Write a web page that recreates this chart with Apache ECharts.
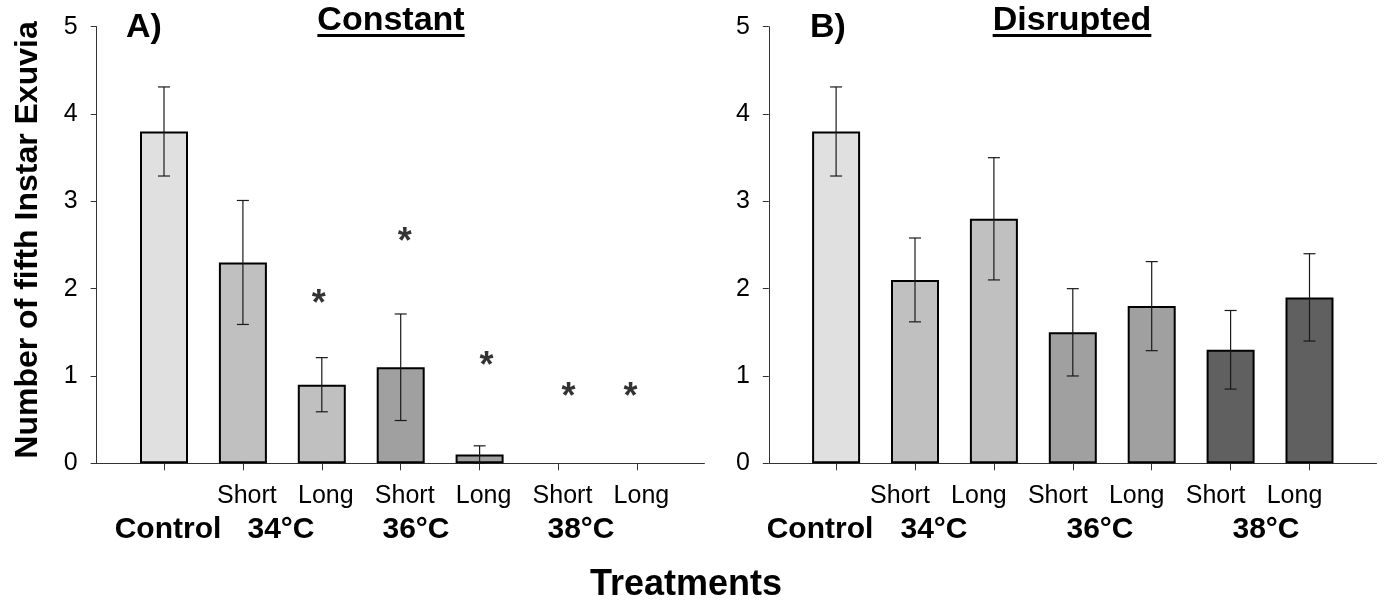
<!DOCTYPE html>
<html>
<head>
<meta charset="utf-8">
<script src="https://cdn.jsdelivr.net/npm/echarts@6/dist/echarts.min.js"></script>
<style>
  html, body { margin: 0; padding: 0; background: #fff; }
  #chart { width: 1384px; height: 605px; }
</style>
</head>
<body>
<div id="chart"></div>
<script>
// ---- data ----
const categories = ['', 'Short', 'Long', 'Short', 'Long', 'Short', 'Long'];
const treatmentGroups = ['Control', '34°C', '36°C', '38°C'];
const yTicks = [0, 1, 2, 3, 4, 5];

const constantMeans  = [3.8, 2.3, 0.9, 1.1, 0.1, 0, 0];
const constantErrors = [0.51, 0.71, 0.31, 0.61, 0.1, 0, 0];
// height of the significance asterisks above each treatment (null = none)
const constantStars  = [null, null, 1.88, 2.59, 1.175, 0.82, 0.82];

const disruptedMeans  = [3.8, 2.1, 2.8, 1.5, 1.8, 1.3, 1.9];
const disruptedErrors = [0.51, 0.48, 0.7, 0.5, 0.51, 0.45, 0.5];

// ---- styling / layout ----
const FONT = "'Liberation Sans', Arial, Helvetica, sans-serif";
const BAR_FILL = ['#e0e0e0', '#c0c0c0', '#c0c0c0', '#a0a0a0', '#a0a0a0', '#606060', '#606060'];
const AXIS_COLOR = '#333333';
const PLOT_TOP = 26.7;
const PLOT_H = 436.6;
const FRAME_W = 607.7;
const BAND_INSET = 27.85;
const BAND_W = 552.3;
const STAR_NUDGE = [0, 0, -3, 4, 7, 10, -7];

const panels = [
  { left: 96.7, title: 'Constant', titleX: 391, tag: 'A)', tagX: 144,
    means: constantMeans, errors: constantErrors, stars: constantStars,
    labelPad: [0, 0, 0, 8],
    groupX: [168, 281, 416, 581] },
  { left: 768.8, title: 'Disrupted', titleX: 1072, tag: 'B)', tagX: 828,
    means: disruptedMeans, errors: disruptedErrors, stars: null,
    labelPad: [0, 30, 0, 0],
    groupX: [820, 934, 1100, 1266] }
];

const chart = echarts.init(document.getElementById('chart'));

const grid = [], xAxis = [], yAxis = [], series = [], graphic = [];

const measure = (() => {
  const ctx = document.createElement('canvas').getContext('2d');
  return (text, font) => { ctx.font = font; return ctx.measureText(text).width; };
})();

const centered = (text, x, y, font, extra) => Object.assign({
  type: 'text', x, y,
  style: { text, font, fill: '#000',
           align: 'center', verticalAlign: 'middle',
           textAlign: 'center', textVerticalAlign: 'middle' }
}, extra || {});

panels.forEach((p, k) => {
  const frame = 2 * k, band = 2 * k + 1;

  // frame grid: draws the two axis lines and the y scale
  grid.push({ left: p.left, top: PLOT_TOP, width: FRAME_W, height: PLOT_H });
  xAxis.push({
    gridIndex: frame, type: 'value', min: 0, max: 1,
    axisLine: { show: true, lineStyle: { color: AXIS_COLOR, width: 1 } },
    axisTick: { show: false }, axisLabel: { show: false }, splitLine: { show: false }
  });
  yAxis.push({
    gridIndex: frame, type: 'value',
    min: yTicks[0], max: yTicks[yTicks.length - 1], interval: yTicks[1] - yTicks[0],
    axisLine: { show: true, lineStyle: { color: AXIS_COLOR, width: 1 } },
    axisTick: { show: true, length: 6, lineStyle: { color: AXIS_COLOR } },
    axisLabel: { color: '#000', fontSize: 25, fontFamily: FONT, margin: 19 },
    splitLine: { show: false }
  });

  // band grid: the treatment categories, bars and error bars
  grid.push({ left: p.left + BAND_INSET, top: PLOT_TOP, width: BAND_W, height: PLOT_H });
  xAxis.push({
    gridIndex: band, type: 'category', data: categories,
    axisLine: { show: false },
    axisTick: { show: true, alignWithLabel: true, interval: 0, length: 7,
                lineStyle: { color: AXIS_COLOR } },
    axisLabel: { interval: 0, color: '#000', fontSize: 25, fontFamily: FONT,
                 margin: 20, padding: p.labelPad },
    splitLine: { show: false }
  });
  yAxis.push({
    gridIndex: band, type: 'value',
    min: yTicks[0], max: yTicks[yTicks.length - 1], show: false
  });

  series.push({
    type: 'bar', xAxisIndex: band, yAxisIndex: band, barWidth: 48, z: 2,
    data: p.means.map((v, i) => ({
      value: v,
      itemStyle: { color: BAR_FILL[i], borderColor: '#000', borderWidth: v > 0 ? 2 : 0 }
    }))
  });

  series.push({
    type: 'custom', xAxisIndex: band, yAxisIndex: band, z: 3,
    encode: { x: 0, y: [1, 2] },
    data: p.means.map((v, i) => [i, Math.max(0, v - p.errors[i]), v + p.errors[i]])
                 .filter((d, i) => p.errors[i] > 0),
    renderItem: (params, api) => {
      const i = api.value(0);
      const hi = api.coord([i, api.value(2)]);
      const lo = api.coord([i, api.value(1)]);
      const cap = 6;
      const st = { stroke: '#1a1a1a', lineWidth: 1.2 };
      return {
        type: 'group',
        children: [
          { type: 'line', shape: { x1: hi[0], y1: hi[1], x2: lo[0], y2: lo[1] }, style: st },
          { type: 'line', shape: { x1: hi[0] - cap, y1: hi[1], x2: hi[0] + cap, y2: hi[1] }, style: st },
          { type: 'line', shape: { x1: lo[0] - cap, y1: lo[1], x2: lo[0] + cap, y2: lo[1] }, style: st }
        ]
      };
    }
  });

  if (p.stars) {
    series.push({
      type: 'scatter', xAxisIndex: band, yAxisIndex: band, z: 4,
      symbolSize: 1, itemStyle: { color: 'rgba(0,0,0,0)' },
      data: p.stars.map((v, i) => v == null ? null : {
        value: [i, v],
        label: { offset: [STAR_NUDGE[i], 6] }
      }).filter(d => d),
      label: {
        show: true, position: 'inside', formatter: '*',
        color: '#000', fontSize: 36, fontWeight: 'bold', fontFamily: FONT
      }
    });
  }

  // panel heading, underlined
  const titleFont = 'bold 34px ' + FONT;
  const tw = measure(p.title, titleFont);
  graphic.push(centered(p.title, p.titleX, 21, titleFont));
  graphic.push({
    type: 'rect', shape: { x: p.titleX - tw / 2, y: 34, width: tw, height: 3 },
    style: { fill: '#000' }
  });
  graphic.push(centered(p.tag, p.tagX, 28, 'bold 34px ' + FONT));

  // treatment group names under the Short/Long labels
  treatmentGroups.forEach((g, j) => {
    graphic.push(centered(g, p.groupX[j], 530, 'bold 30px ' + FONT));
  });
});

// shared axis titles
graphic.push(centered('Number of fifth Instar Exuvia', 28, 240, 'bold 32px ' + FONT,
                      { rotation: Math.PI / 2 }));
graphic.push(centered('Treatments', 686, 585, 'bold 36px ' + FONT));

chart.setOption({
  backgroundColor: '#fff',
  animation: false,
  textStyle: { fontFamily: FONT },
  grid, xAxis, yAxis, series, graphic
});
</script>
</body>
</html>
